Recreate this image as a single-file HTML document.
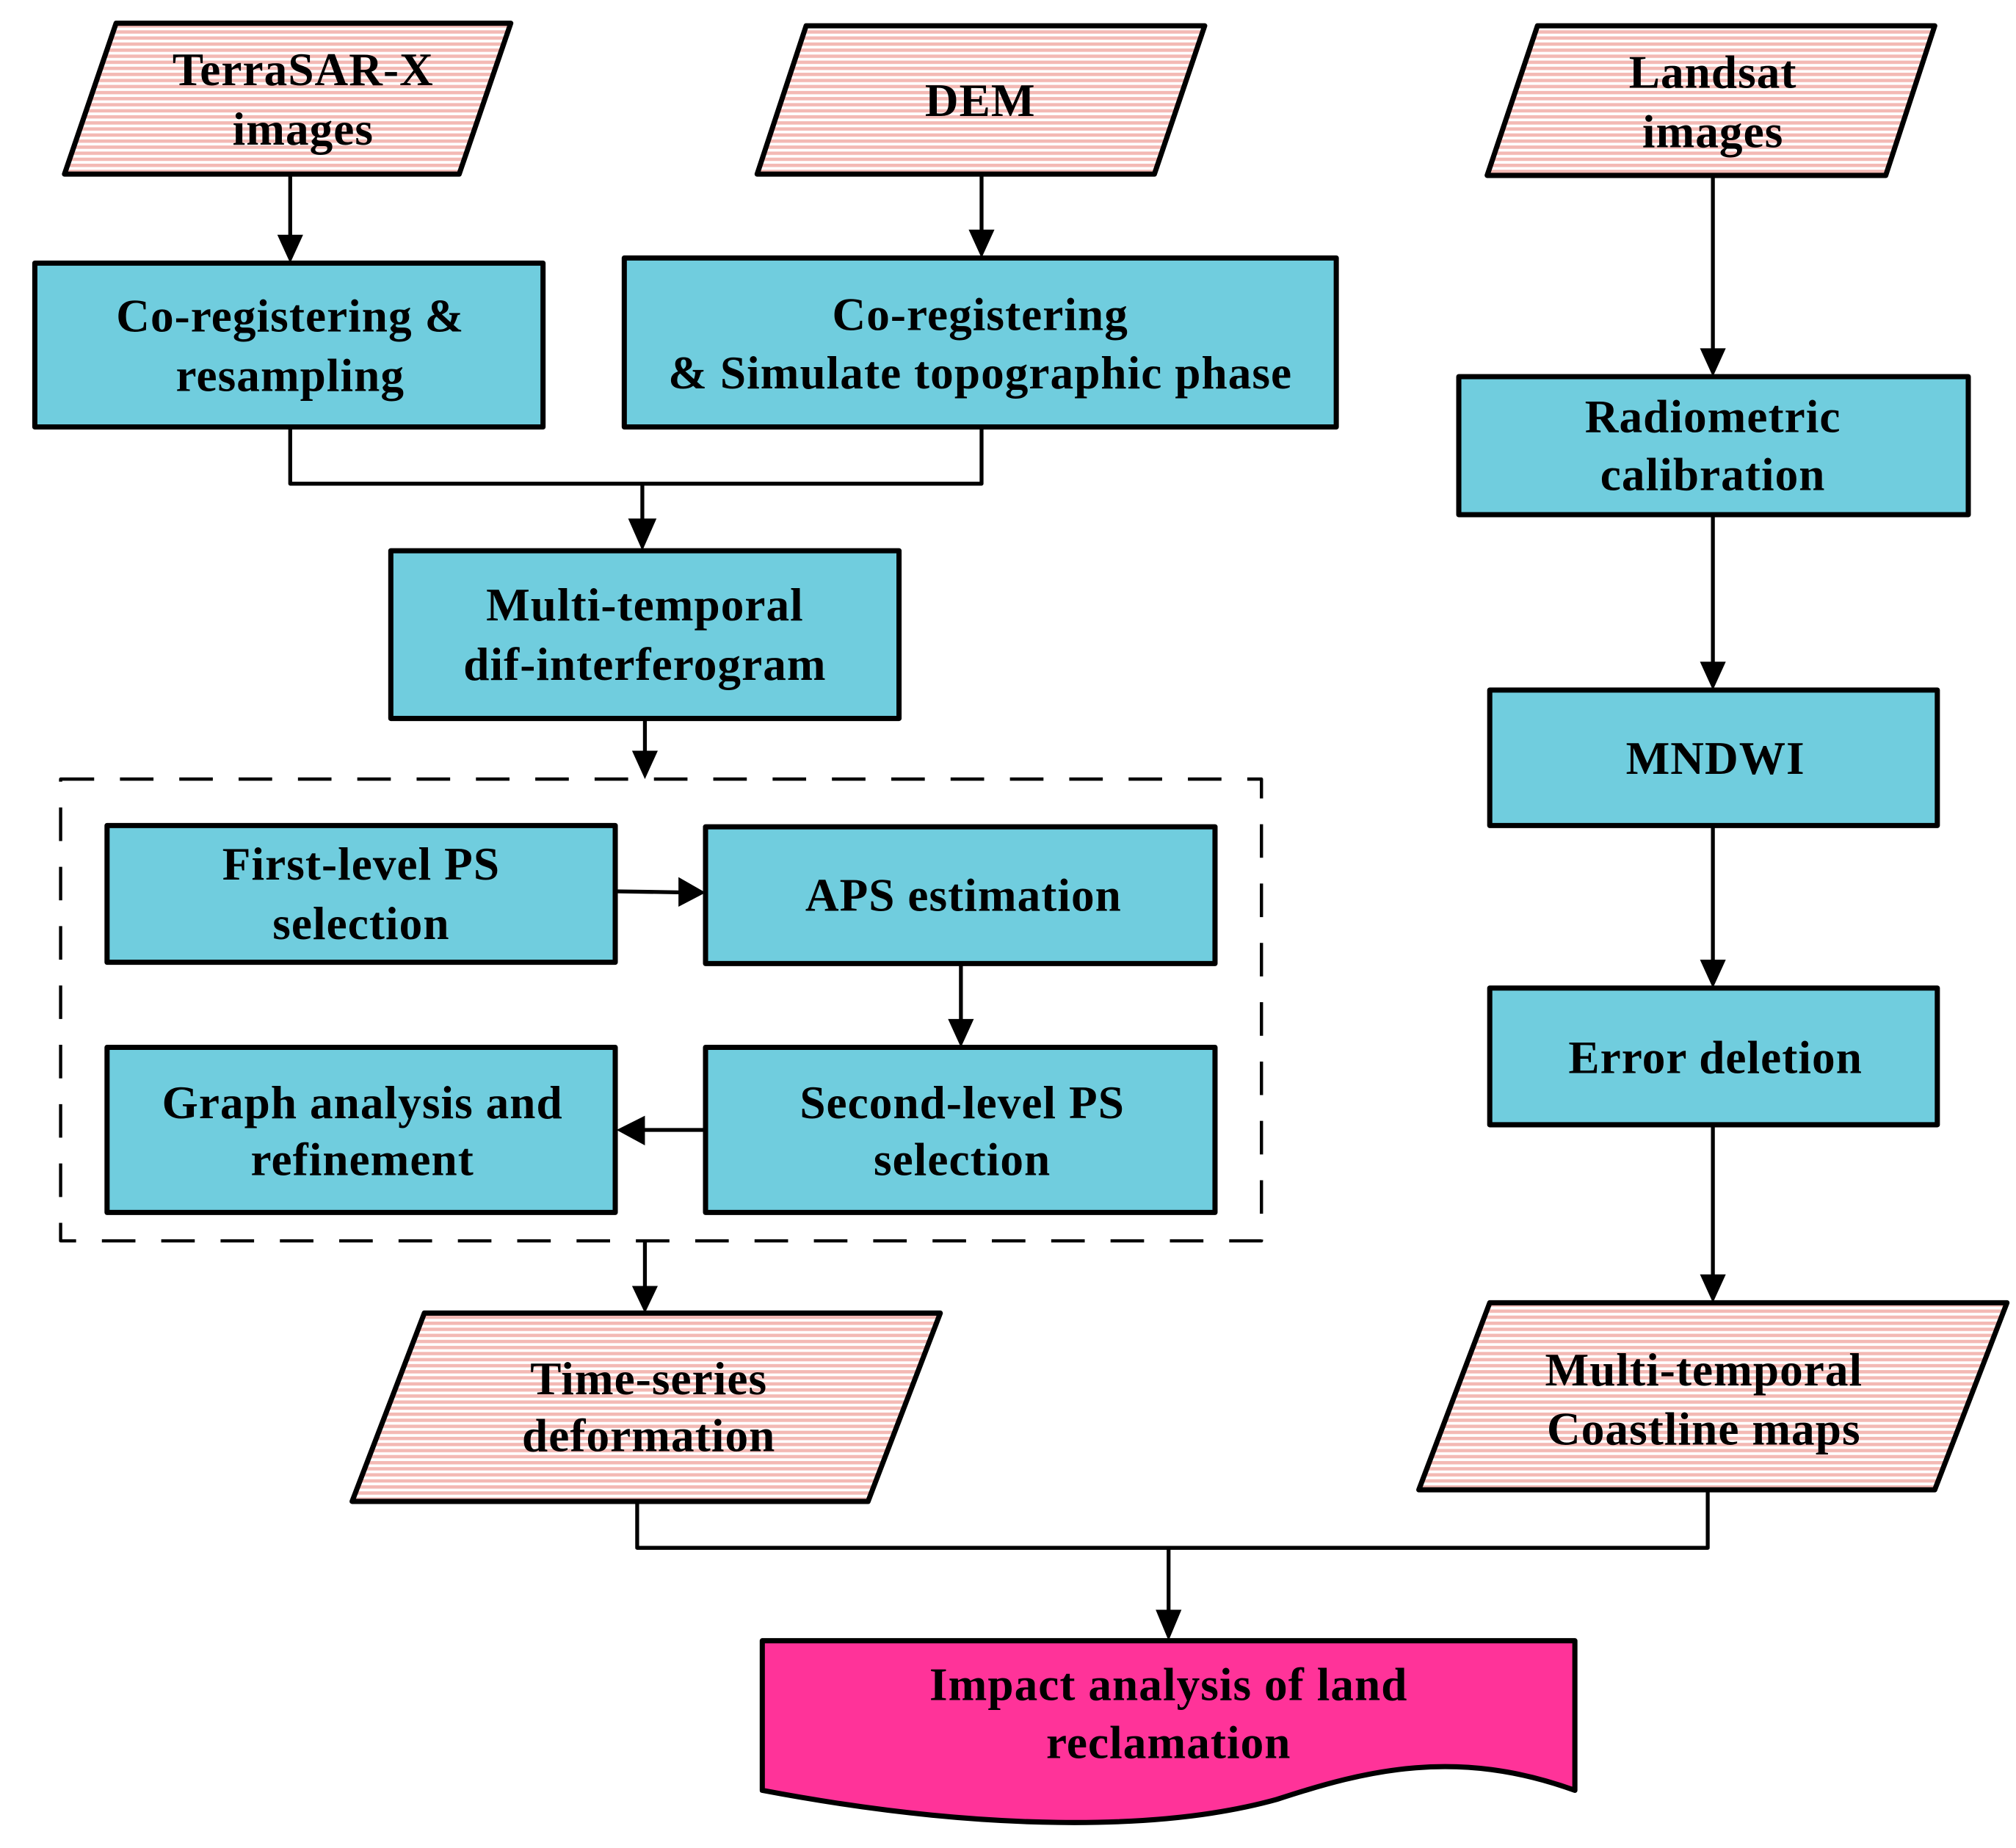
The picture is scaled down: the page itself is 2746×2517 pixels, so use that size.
<!DOCTYPE html>
<html><head><meta charset="utf-8"><style>
html,body{margin:0;padding:0;background:#fff}
svg{display:block}
text{font-family:"Liberation Serif",serif;font-weight:bold;font-size:36px;letter-spacing:0.6px;fill:#000;text-anchor:middle}
</style></head><body>
<svg width="2746" height="2517" viewBox="0 0 1563 1432.7" preserveAspectRatio="none" xmlns="http://www.w3.org/2000/svg">
<defs>
<pattern id="h" width="10" height="4.7" patternUnits="userSpaceOnUse">
<rect width="10" height="4.7" fill="#fff"/><rect width="10" height="2.6" fill="#F3B9B4"/>
</pattern>
</defs>
<g stroke="#000" stroke-width="4" stroke-linejoin="round">
<polygon points="90,18 396,18 356,135 50,135" fill="url(#h)"/>
<polygon points="625,20 934,20 895,135 587,135" fill="url(#h)"/>
<polygon points="1192,20 1500,20 1462,136 1153,136" fill="url(#h)"/>
<polygon points="329,1018 729,1018 673,1164 273,1164" fill="url(#h)"/>
<polygon points="1155,1010 1556,1010 1500,1155 1100,1155" fill="url(#h)"/>
<g fill="#70CDDE">
<rect x="27" y="204" width="394" height="127"/>
<rect x="484" y="200" width="552" height="131"/>
<rect x="303" y="427" width="394" height="130"/>
<rect x="83" y="640" width="394" height="106"/>
<rect x="547" y="641" width="395" height="106"/>
<rect x="547" y="812" width="395" height="128"/>
<rect x="83" y="812" width="394" height="128"/>
<rect x="1131" y="292" width="395" height="107"/>
<rect x="1155" y="535" width="347" height="105"/>
<rect x="1155" y="766" width="347" height="106"/>
</g>
<path d="M591,1272 H1221 V1388 C1130,1355 1060,1372 990,1395 C900,1420 760,1420 591,1388 Z" fill="#FF3399"/>
<rect x="47" y="604" width="931" height="358" fill="none" stroke-width="2.5" stroke-dasharray="26,20"/>
<g fill="none" stroke-width="3">
<path d="M225,135 V195"/><path d="M761,135 V192"/><path d="M1328,136 V283"/>
<path d="M225,331 V375 H761 V331"/><path d="M498,375 V418"/>
<path d="M500,557 V596"/>
<path d="M477,691 L538,692"/><path d="M745,747 V802"/><path d="M547,876 H487"/>
<path d="M500,962 V1010"/>
<path d="M1328,399 V527"/><path d="M1328,640 V758"/><path d="M1328,872 V1002"/>
<path d="M494,1164 V1200 H1324 V1155"/><path d="M906,1200 V1264"/>
</g>
</g>
<g fill="#000">
<polygon points="215,182 235,182 225,204"/>
<polygon points="751,178 771,178 761,200"/>
<polygon points="1318,270 1338,270 1328,292"/>
<polygon points="487,402 509,402 498,427"/>
<polygon points="490,582 510,582 500,604"/>
<polygon points="526,680 526,703 547,692"/>
<polygon points="735,790 755,790 745,812"/>
<polygon points="500,865 500,888 478,876"/>
<polygon points="490,997 510,997 500,1018"/>
<polygon points="1318,513 1338,513 1328,535"/>
<polygon points="1318,744 1338,744 1328,766"/>
<polygon points="1318,988 1338,988 1328,1010"/>
<polygon points="896,1248 916,1248 906,1272"/>
</g>
<text x="235" y="66">TerraSAR-X</text><text x="235" y="112">images</text>
<text x="760" y="90">DEM</text>
<text x="1328" y="68">Landsat</text><text x="1328" y="114">images</text>
<text x="225" y="257">Co-registering &amp;</text><text x="225" y="303">resampling</text>
<text x="760" y="256">Co-registering</text><text x="760" y="301">&amp; Simulate topographic phase</text>
<text x="500" y="481">Multi-temporal</text><text x="500" y="527">dif-interferogram</text>
<text x="280" y="682">First-level PS</text><text x="280" y="728">selection</text>
<text x="747" y="706">APS estimation</text>
<text x="746" y="867">Second-level PS</text><text x="746" y="911">selection</text>
<text x="281" y="867">Graph analysis and</text><text x="281" y="911">refinement</text>
<text x="503" y="1081">Time-series</text><text x="503" y="1125">deformation</text>
<text x="1328" y="335">Radiometric</text><text x="1328" y="380">calibration</text>
<text x="1330" y="600">MNDWI</text>
<text x="1330" y="832">Error deletion</text>
<text x="1321" y="1074">Multi-temporal</text><text x="1321" y="1120">Coastline maps</text>
<text x="906" y="1318">Impact analysis of land</text><text x="906" y="1363">reclamation</text>
</svg>
</body></html>
